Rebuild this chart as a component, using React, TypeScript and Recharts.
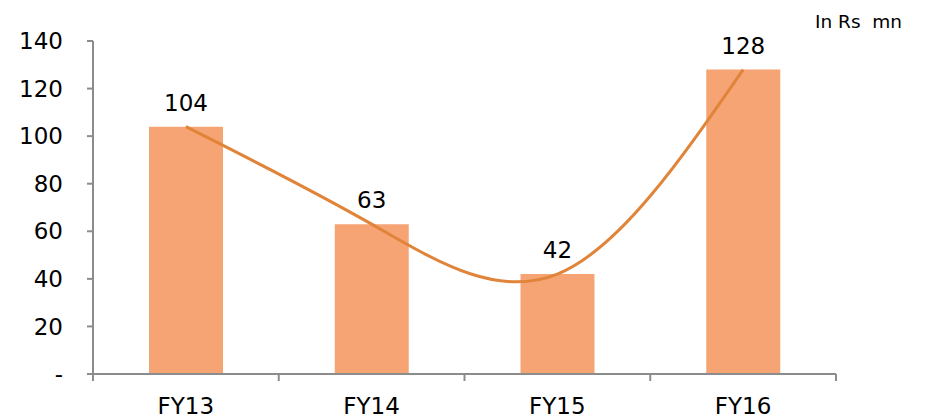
import { ComposedChart, Bar, Line, XAxis, YAxis, LabelList } from 'recharts';

const categories = ['FY13', 'FY14', 'FY15', 'FY16'];
const values = [104, 63, 42, 128];
const yTicks = [0, 20, 40, 60, 80, 100, 120, 140];

const data = categories.map((name, i) => ({ name, value: values[i] }));

const FONT = '"DejaVu Sans", sans-serif';
const AXIS = '#8c8c8c';
const X_TICK_GAP = 24;
const X_TICK_LEN = 7;

// category label plus the small tick marks Excel puts between categories
function CategoryTick(props: any) {
  const { x, y, payload, index, width, visibleTicksCount } = props;
  const band = width && visibleTicksCount ? width / visibleTicksCount : 0;
  const axisY = y - X_TICK_GAP;
  const isLast = index === visibleTicksCount - 1;
  return (
    <g>
      {band > 0 && (
        <line
          x1={x - band / 2}
          x2={x - band / 2}
          y1={axisY}
          y2={axisY + X_TICK_LEN}
          stroke={AXIS}
          strokeWidth={2}
        />
      )}
      {band > 0 && isLast && (
        <line
          x1={x + band / 2}
          x2={x + band / 2}
          y1={axisY}
          y2={axisY + X_TICK_LEN}
          stroke={AXIS}
          strokeWidth={2}
        />
      )}
      <text x={x} y={y} dy="0.71em" textAnchor="middle" fill="#000" fontSize={23} fontFamily={FONT}>
        {payload.value}
      </text>
    </g>
  );
}

export default function App() {
  return (
    <div style={{ position: 'relative', width: 911, height: 410, fontFamily: FONT }}>
      <ComposedChart
        width={911}
        height={410}
        data={data}
        margin={{ top: 33, right: 83, bottom: 14, left: 25 }}
      >
        <XAxis
          dataKey="name"
          height={30}
          interval={0}
          axisLine={{ stroke: AXIS, strokeWidth: 2 }}
          tickLine={false}
          tickSize={0}
          tickMargin={X_TICK_GAP}
          tick={<CategoryTick />}
        />
        <YAxis
          domain={[0, 140]}
          ticks={yTicks}
          width={60}
          interval={0}
          tickFormatter={(v: number) => (v === 0 ? '-' : String(v))}
          axisLine={{ stroke: AXIS, strokeWidth: 2 }}
          tickLine={{ stroke: AXIS, strokeWidth: 2 }}
          tickSize={6}
          tickMargin={24}
          tick={{ fill: '#000', fontSize: 23, fontFamily: FONT }}
        />
        <Bar dataKey="value" fill="#F6A474" barSize={74} isAnimationActive={false}>
          <LabelList
            dataKey="value"
            position="top"
            offset={16}
            style={{ fill: '#000', fontSize: 23, fontFamily: FONT }}
          />
        </Bar>
        <Line
          type="natural"
          dataKey="value"
          stroke="#E0843A"
          strokeWidth={3}
          dot={false}
          activeDot={false}
          isAnimationActive={false}
        />
      </ComposedChart>
      <span
        style={{
          position: 'absolute',
          left: 807,
          top: 3,
          fontSize: 18.5,
          whiteSpace: 'pre',
          color: '#000',
        }}
      >
        {'In Rs  mn'}
      </span>
    </div>
  );
}
